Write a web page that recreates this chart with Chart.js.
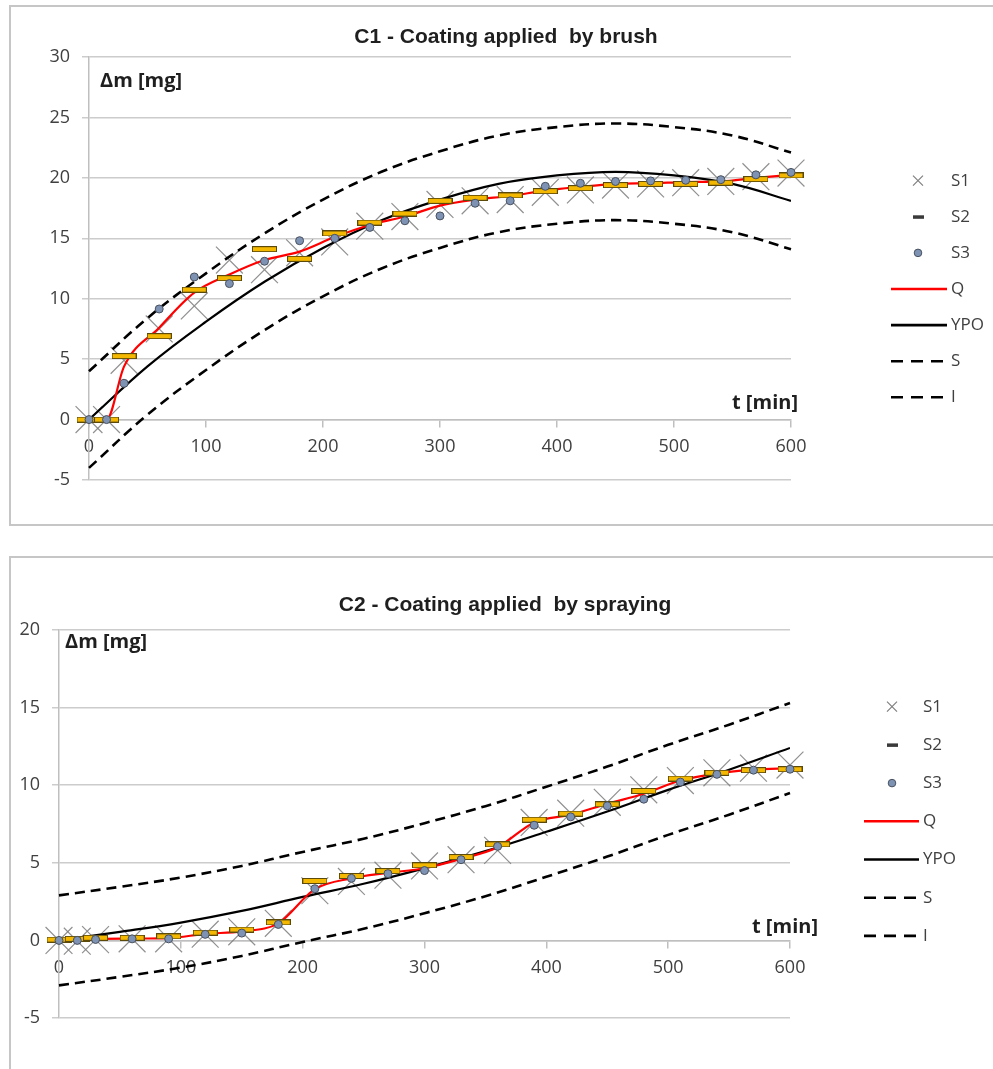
<!DOCTYPE html>
<html>
<head>
<meta charset="utf-8">
<script src="https://cdn.jsdelivr.net/npm/chart.js@4.4.1/dist/chart.umd.min.js"></script>
<style>
  body { margin: 0; background: #fff; width: 993px; height: 1069px; overflow: hidden; position: relative; }
  .frame { position: absolute; border: 2px solid #c6c6c6; }
  #f1 { left: 9px; top: 5px; width: 1010px; height: 517px; }
  #f2 { left: 9px; top: 556px; width: 1010px; height: 600px; }
  canvas { position: absolute; left: 0; }
  #c1 { top: 0; }
  #c2 { top: 545px; }
</style>
</head>
<body>
<div class="frame" id="f1"></div>
<div class="frame" id="f2"></div>
<canvas id="c1" width="993" height="540"></canvas>
<canvas id="c2" width="993" height="524"></canvas>
<script>
// sampling times [min]
const tMeas = [0, 15, 30, 60, 90, 120, 150, 180, 210, 240, 270, 300, 330, 360, 390, 420, 450, 480, 510, 540, 570, 600];
const tFit = [0, 50, 100, 150, 200, 250, 300, 350, 400, 450, 500, 550, 600];

// C1 - brush
const c1S1 = [0, 0, 4.9, 7.5, 9.4, 13.2, 12.4, 13.8, 14.7, 16.0, 16.8, 17.8, 18.1, 18.2, 18.8, 19.0, 19.4, 19.5, 19.6, 19.7, 20.1, 20.4];
const c1S2 = [0, 0, 5.25, 6.9, 10.75, 11.7, 14.1, 13.3, 15.4, 16.3, 17.05, 18.1, 18.35, 18.55, 18.9, 19.15, 19.4, 19.5, 19.5, 19.6, 19.9, 20.2];
const c1S3 = [0, 0, 3.0, 9.15, 11.8, 11.25, 13.1, 14.8, 15.0, 15.9, 16.45, 16.85, 17.9, 18.1, 19.3, 19.55, 19.7, 19.75, 19.8, 19.85, 20.25, 20.45];
const c1Q = [0, 0, 4.4, 7.6, 10.5, 12.0, 13.2, 13.9, 15.1, 16.1, 16.8, 17.7, 18.2, 18.5, 18.95, 19.25, 19.5, 19.55, 19.65, 19.7, 20.0, 20.25];
const c1YPO = [0, 4.4, 8.1, 11.4, 14.2, 16.5, 18.2, 19.5, 20.2, 20.5, 20.2, 19.5, 18.1];
const c1Sup = [4, 8.4, 12.1, 15.4, 18.2, 20.5, 22.2, 23.5, 24.2, 24.5, 24.2, 23.5, 22.1];
const c1Inf = [-4, 0.4, 4.1, 7.4, 10.2, 12.5, 14.2, 15.5, 16.2, 16.5, 16.2, 15.5, 14.1];

// C2 - spraying
const c2S1 = [0, -0.05, 0.05, 0.1, 0.1, 0.4, 0.55, 1.1, 3.2, 3.8, 4.2, 4.8, 5.2, 5.8, 7.6, 8.2, 8.9, 9.7, 10.3, 10.8, 11.1, 11.3];
const c2S2 = [0.05, 0.1, 0.17, 0.17, 0.26, 0.5, 0.7, 1.16, 3.83, 4.15, 4.47, 4.84, 5.37, 6.19, 7.78, 8.17, 8.77, 9.63, 10.43, 10.8, 10.97, 11.03];
const c2S3 = [0, 0, 0.06, 0.1, 0.1, 0.39, 0.47, 1.03, 3.33, 4.0, 4.3, 4.5, 5.2, 6.06, 7.42, 7.96, 8.67, 9.1, 10.2, 10.7, 10.97, 11.03];
const c2Q = [0, 0.03, 0.1, 0.12, 0.15, 0.42, 0.58, 1.1, 3.3, 4.0, 4.35, 4.65, 5.25, 6.0, 7.6, 8.1, 8.8, 9.45, 10.3, 10.75, 11.0, 11.1];
const c2YPO = [0, 0.55, 1.15, 1.9, 2.8, 3.65, 4.65, 5.75, 7.0, 8.3, 9.7, 11.0, 12.4];
const c2Sup = [2.9, 3.45, 4.05, 4.8, 5.7, 6.55, 7.55, 8.65, 9.9, 11.2, 12.6, 13.9, 15.3];
const c2Inf = [-2.9, -2.35, -1.75, -1.0, -0.1, 0.75, 1.75, 2.85, 4.1, 5.4, 6.8, 8.1, 9.5];

const pts = (xs, ys) => xs.map((x, i) => ({ x: x, y: ys[i] }));

// yellow bar marker for S2
function dashImg(w, h) {
  const c = document.createElement('canvas');
  c.width = w; c.height = h;
  const g = c.getContext('2d');
  g.fillStyle = '#f5b800';
  g.fillRect(0, 0, w, h);
  g.strokeStyle = '#5c4a0a';
  g.lineWidth = 1;
  g.strokeRect(0.5, 0.5, w - 1, h - 1);
  return c;
}

// title, axis names and legend drawn on top
const extras = {
  id: 'extras',
  afterDraw(chart, args, o) {
    const ctx = chart.ctx;
    ctx.save();
    ctx.textBaseline = 'middle';
    ctx.fillStyle = '#1f1f1f';
    ctx.font = 'bold 21px "Liberation Sans", Arial, sans-serif';
    ctx.textAlign = 'center';
    ctx.fillText(o.title, o.titleX, o.titleY);

    ctx.font = 'bold 20px "Open Sans", sans-serif';
    ctx.textAlign = 'left';
    ctx.fillText('Δm [mg]', o.yLab[0], o.yLab[1]);
    ctx.textAlign = 'right';
    ctx.fillText('t [min]', o.xLab[0], o.xLab[1]);

    const lg = o.legend;
    ctx.font = '17px "Open Sans", sans-serif';
    ctx.textAlign = 'left';
    chart.data.datasets.forEach((ds, i) => {
      const y = lg.y0 + i * lg.dy;
      if (ds.kind === 'line') {
        ctx.strokeStyle = ds.borderColor;
        ctx.lineWidth = 2.6;
        ctx.setLineDash(ds.borderDash ? [12, 8] : []);
        ctx.beginPath();
        ctx.moveTo(lg.x0, y);
        ctx.lineTo(lg.x1, y);
        ctx.stroke();
        ctx.setLineDash([]);
      } else if (ds.kind === 'x') {
        ctx.strokeStyle = '#808080';
        ctx.lineWidth = 1.2;
        ctx.beginPath();
        ctx.moveTo(lg.mx - 5, y - 5); ctx.lineTo(lg.mx + 5, y + 5);
        ctx.moveTo(lg.mx - 5, y + 5); ctx.lineTo(lg.mx + 5, y - 5);
        ctx.stroke();
      } else if (ds.kind === 'dash') {
        ctx.fillStyle = '#3a3a3a';
        ctx.fillRect(lg.mx - 5, y - 1.5, 11, 3.5);
      } else {
        ctx.fillStyle = ds.pointBackgroundColor;
        ctx.strokeStyle = ds.pointBorderColor;
        ctx.lineWidth = 1;
        ctx.beginPath();
        ctx.arc(lg.mx, y, 3.8, 0, Math.PI * 2);
        ctx.fill();
        ctx.stroke();
      }
      ctx.fillStyle = '#404040';
      ctx.fillText(ds.label, lg.tx, y);
    });
    ctx.restore();
  }
};

function makeChart(id, d, lay) {
  return new Chart(document.getElementById(id), {
    type: 'scatter',
    data: {
      datasets: [
        { label: 'S1', kind: 'x', data: pts(tMeas, d.s1), pointStyle: 'crossRot', pointRadius: 19,
          pointBorderColor: 'rgba(125,125,125,0.85)', pointBorderWidth: 1.2, order: 6, clip: false },
        { label: 'S2', kind: 'dash', data: pts(tMeas, d.s2), pointStyle: dashImg(25, 6), pointRadius: 12,
          order: 1, clip: false },
        { label: 'S3', kind: 'dot', data: pts(tMeas, d.s3), pointStyle: 'circle', pointRadius: 4,
          pointBackgroundColor: '#7e93b3', pointBorderColor: '#47505e', pointBorderWidth: 1, order: 0, clip: false },
        { label: 'Q', kind: 'line', data: pts(tMeas, d.q), showLine: true, borderColor: '#ff0000',
          borderWidth: 2.2, cubicInterpolationMode: 'monotone', pointRadius: 0, order: 2 },
        { label: 'YPO', kind: 'line', data: pts(tFit, d.ypo), showLine: true, borderColor: '#000000',
          borderWidth: 2.2, tension: 0.4, pointRadius: 0, order: 3 },
        { label: 'S', kind: 'line', data: pts(tFit, d.sup), showLine: true, borderColor: '#000000',
          borderWidth: 2.6, borderDash: [10, 6], tension: 0.4, pointRadius: 0, order: 4, clip: false },
        { label: 'I', kind: 'line', data: pts(tFit, d.inf), showLine: true, borderColor: '#000000',
          borderWidth: 2.6, borderDash: [10, 6], tension: 0.4, pointRadius: 0, order: 5, clip: false }
      ]
    },
    options: {
      responsive: false,
      animation: false,
      events: [],
      layout: { padding: lay.padding },
      scales: {
        x: {
          type: 'linear', min: 0, max: 600, position: { y: 0 },
          ticks: { stepSize: 100, color: '#404040', font: { family: 'Open Sans', size: 18 }, padding: 10 },
          grid: { drawOnChartArea: false, color: '#bfbfbf', lineWidth: 1.5, tickLength: 7 },
          border: { color: '#bfbfbf', width: 1.5 }
        },
        y: {
          min: lay.ymin, max: lay.ymax,
          ticks: { stepSize: 5, color: '#404040', font: { family: 'Open Sans', size: 18 }, padding: 12 },
          grid: { color: '#cccccc', lineWidth: 1.5, tickLength: 7 },
          border: { color: '#bfbfbf', width: 1.5 },
          afterFit: (s) => { s.width = lay.axisW; }
        }
      },
      plugins: {
        legend: { display: false },
        tooltip: { enabled: false },
        extras: lay.extras
      }
    },
    plugins: [extras]
  });
}

makeChart('c1',
  { s1: c1S1, s2: c1S2, s3: c1S3, q: c1Q, ypo: c1YPO, sup: c1Sup, inf: c1Inf },
  {
    ymin: -5, ymax: 30, axisW: 89,
    padding: { left: 0, top: 57, right: 202, bottom: 60 },
    extras: {
      title: 'C1 - Coating applied  by brush', titleX: 506, titleY: 37,
      yLab: [100, 81], xLab: [798, 403],
      legend: { x0: 891, x1: 947, mx: 918, tx: 951, y0: 180.7, dy: 36.1 }
    }
  });

makeChart('c2',
  { s1: c2S1, s2: c2S2, s3: c2S3, q: c2Q, ypo: c2YPO, sup: c2Sup, inf: c2Inf },
  {
    ymin: -5, ymax: 20, axisW: 59,
    padding: { left: 0, top: 85, right: 203, bottom: 51 },
    extras: {
      title: 'C2 - Coating applied  by spraying', titleX: 505, titleY: 60,
      yLab: [65, 97], xLab: [818, 382],
      legend: { x0: 864, x1: 919, mx: 892, tx: 923, y0: 161.7, dy: 38.2 }
    }
  });
</script>
</body>
</html>
